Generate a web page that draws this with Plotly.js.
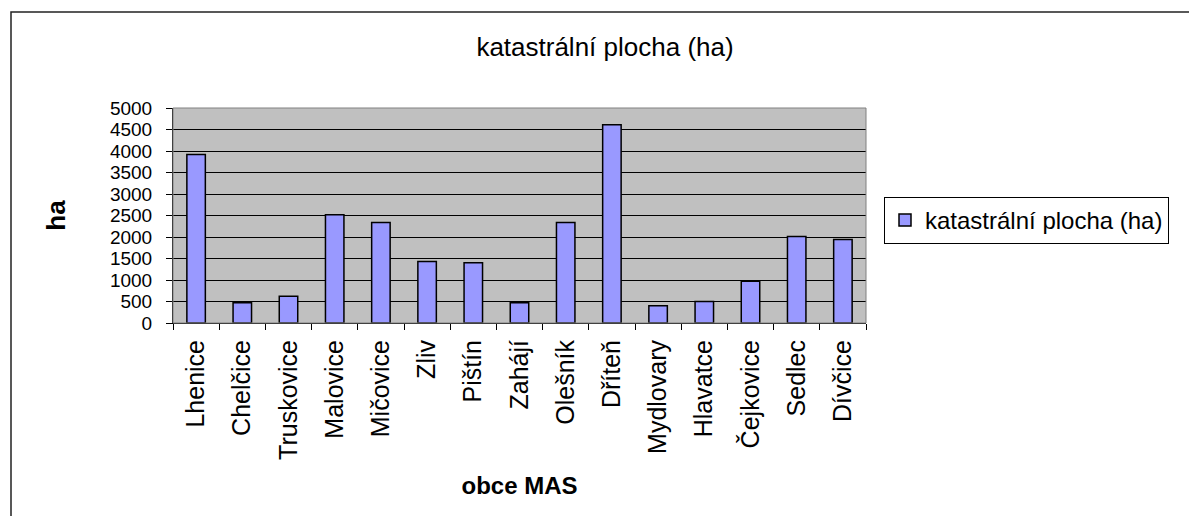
<!DOCTYPE html>
<html>
<head>
<meta charset="utf-8">
<script src="https://cdn.plot.ly/plotly-3.0.1.min.js"></script>
<style>html,body{margin:0;padding:0;background:#fff;}#chart{width:1189px;height:516px;}</style>
</head>
<body>
<div id="chart"></div>
<script>
var categories = ["Lhenice","Chelčice","Truskovice","Malovice","Mičovice","Zliv","Pištín","Zahájí","Olešník","Dříteň","Mydlovary","Hlavatce","Čejkovice","Sedlec","Dívčice"];
var areaHa = [3920, 470, 620, 2520, 2340, 1430, 1400, 470, 2340, 4610, 400, 500, 970, 2010, 1940];
var seriesName = "katastrální plocha (ha)";
var chartTitle = "katastrální plocha (ha)";
var xTitle = "obce MAS";
var yTitle = "ha";

var W = 1189, H = 516;
var L = 173, R = 866, T = 108, B = 323;
function px(x){ return (x - L) / (R - L); }
function py(y){ return (B - y) / (B - T); }

var font = "Liberation Sans, Arial, sans-serif";

var trace = {
  type: "bar",
  x: categories,
  y: areaHa,
  name: seriesName,
  showlegend: true,
  marker: { color: "#9999ff", line: { color: "#000000", width: 1.5 } }
};

var layout = {
  width: W, height: H,
  margin: { l: L, r: W - R, t: T, b: H - B, pad: 0 },
  paper_bgcolor: "#ffffff",
  plot_bgcolor: "#c0c0c0",
  font: { family: font, color: "#000000", size: 20 },
  bargap: 0.6,
  title: {
    text: chartTitle,
    font: { family: font, size: 26, color: "#000000" },
    xref: "container", yref: "container",
    x: 605 / W, xanchor: "center",
    y: 1 - 47 / H, yanchor: "middle"
  },
  xaxis: {
    type: "category",
    tickson: "boundaries",
    ticks: "outside", ticklen: 6, tickcolor: "#000000", tickwidth: 1,
    tickangle: -90,
    ticklabelstandoff: 6,
    tickfont: { family: font, size: 25, color: "#000000" },
    showline: true, linecolor: "#000000", linewidth: 1,
    showgrid: false, zeroline: false,
    title: { text: "<b>" + xTitle + "</b>", font: { family: font, size: 24, color: "#000000" }, standoff: 18 }
  },
  yaxis: {
    range: [0, 5000],
    dtick: 500, tick0: 0,
    ticks: "outside", ticklen: 6, tickcolor: "#000000", tickwidth: 1,
    ticklabelstandoff: 10,
    tickfont: { family: font, size: 19, color: "#000000" },
    showline: true, linecolor: "#000000", linewidth: 1,
    showgrid: true, gridcolor: "#000000", gridwidth: 1,
    zeroline: false,
    title: { text: "<b>" + yTitle + "</b>", font: { family: font, size: 26, color: "#000000" }, standoff: 36 }
  },
  showlegend: true,
  legend: {
    x: px(884), xanchor: "left",
    y: py(197), yanchor: "top",
    bgcolor: "#ffffff", bordercolor: "#000000", borderwidth: 1,
    font: { family: font, size: 24, color: "#000000" }
  },
  shapes: [
    { type: "rect", xref: "paper", yref: "paper", x0: 0, x1: 1, y0: 0, y1: 1,
      line: { color: "#808080", width: 1 }, fillcolor: "rgba(0,0,0,0)", layer: "above" },
    { type: "rect", xref: "paper", yref: "paper",
      x0: px(11), x1: px(1200), y0: py(520), y1: py(12),
      line: { color: "#222222", width: 1.5 }, fillcolor: "rgba(0,0,0,0)", layer: "above" }
  ]
};

Plotly.newPlot("chart", [trace], layout, { staticPlot: true, displayModeBar: false });
</script>
</body>
</html>
